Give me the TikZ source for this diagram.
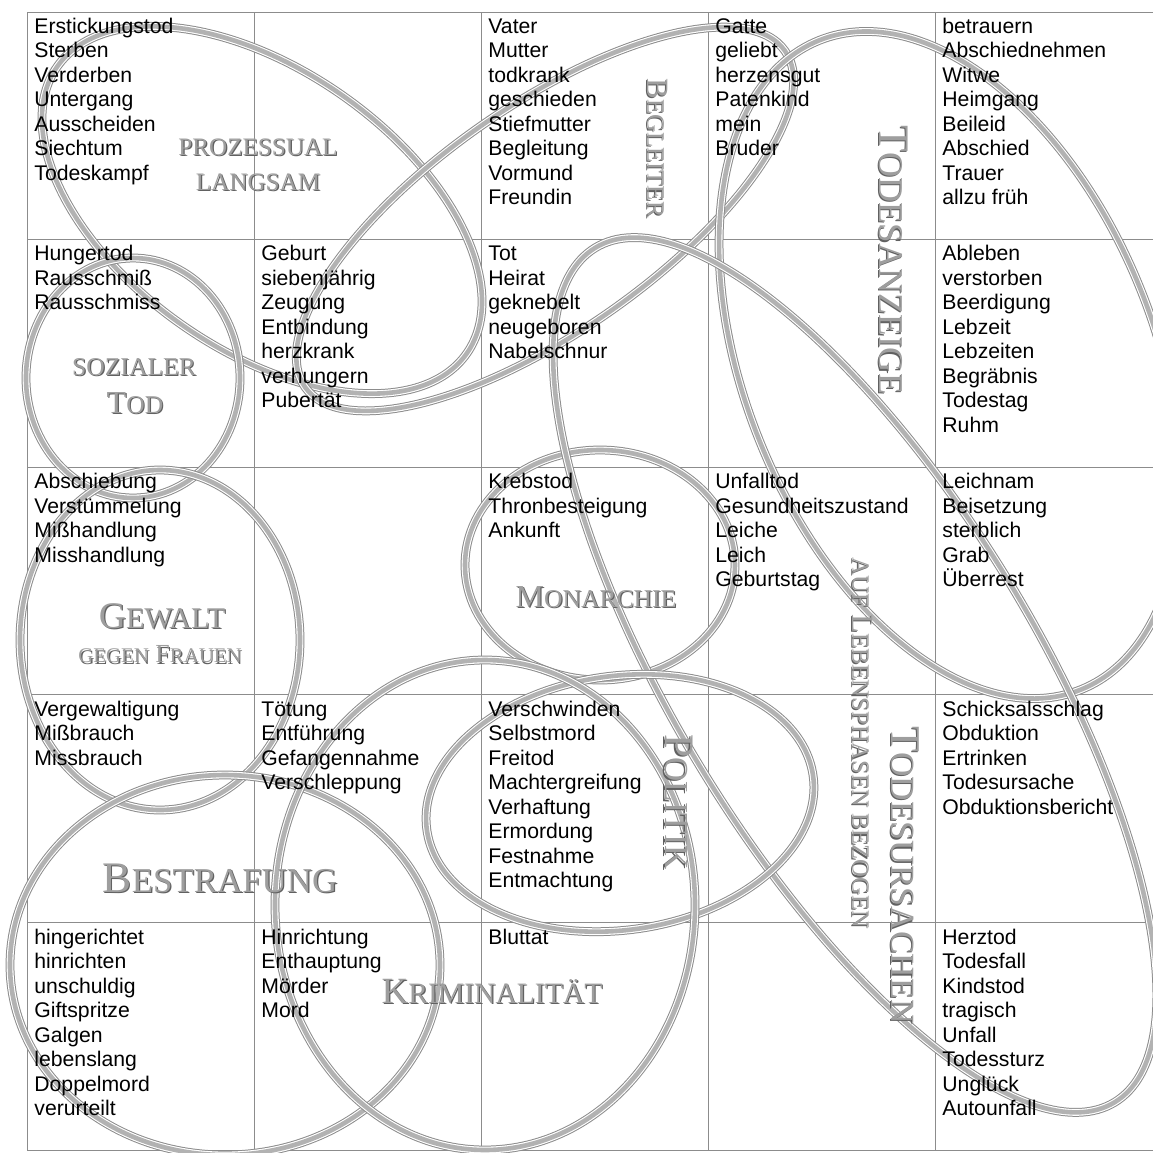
\documentclass[tikz,border=0pt]{standalone}
\usepackage{fontspec}
\newfontfamily\arial{Liberation Sans}
\newfontfamily\labelfont{Liberation Serif}

% small capitals, drawn from capitals at a smaller size
\newcommand\lowc[1]{\scalebox{0.8}{#1}}
% grey letters with a darker shade behind them
\newcommand\emboss[1]{\makebox[0pt][l]{\hspace{0.6pt}\raisebox{-0.6pt}{\color{black!62}#1}}{\color{black!38}#1}}

\tikzset{
  word/.style={anchor=base west, inner sep=0pt, font=\arial\fontsize{10.6}{12}\selectfont},
  topic/.style={inner sep=0pt, font=\labelfont\fontsize{#1}{#1}\selectfont},
  ring/.style={draw=black!45, line width=4.4pt,
    postaction={draw=white, line width=3.4pt},
    postaction={draw=black!30, line width=2.3pt}},
  cellline/.style={draw=black!45, line width=0.5pt}
}

\begin{document}
\begin{tikzpicture}[x=0.5pt, y=-0.5pt]
    \useasboundingbox (0,0) rectangle (1153,1153);
    \fill[white] (0,0) rectangle (1153,1153);
    \clip (0,0) rectangle (1153,1153);

    % table
    \foreach \k in {0,...,5} {
        \draw[cellline] (27, {12+227.6*\k}) -- (1165, {12+227.6*\k});
    }
    \foreach \k in {0,...,4} {
        \draw[cellline] ({27+227*\k}, 12) -- ({27+227*\k}, 1150);
    }

    % topic rings
    \coordinate (cProz) at (262,210);
    \coordinate (cSoz) at (133,378);
    \coordinate (cGew) at (160,640);
    \coordinate (cBegl) at (545,219);
    \coordinate (cMon) at (600,565);
    \coordinate (cAnz) at (950,365);
    \coordinate (cUrs) at (855,675);
    \coordinate (cPol) at (620,803);
    \coordinate (cStraf) at (225,965);
    \coordinate (cKrim) at (485,905);

    \draw[ring, rotate around={-35:(cProz)}] (cProz) ellipse [x radius=250, y radius=140];
    \draw[ring] (cSoz) ellipse [x radius=107, y radius=120];
    \draw[ring] (cGew) ellipse [x radius=140, y radius=170];
    \draw[ring, rotate around={35:(cBegl)}] (cBegl) ellipse [x radius=293, y radius=113];
    \draw[ring] (cMon) ellipse [x radius=135, y radius=115];
    \draw[ring, rotate around={-68:(cAnz)}] (cAnz) ellipse [x radius=350, y radius=205];
    \draw[ring, rotate around={-58.7:(cUrs)}] (cUrs) ellipse [x radius=500, y radius=180];
    \draw[ring, rotate around={8:(cPol)}] (cPol) ellipse [x radius=195, y radius=127];
    \draw[ring] (cStraf) ellipse [x radius=215, y radius=190];
    \draw[ring] (cKrim) ellipse [x radius=210, y radius=245];

    % words of the map
    \foreach \c/\r/\ws in {
        0/0/{Erstickungstod,Sterben,Verderben,Untergang,Ausscheiden,Siechtum,Todeskampf},
        2/0/{Vater,Mutter,todkrank,geschieden,Stiefmutter,Begleitung,Vormund,Freundin},
        3/0/{Gatte,geliebt,herzensgut,Patenkind,mein,Bruder},
        4/0/{betrauern,Abschiednehmen,Witwe,Heimgang,Beileid,Abschied,Trauer,allzu früh},
        0/1/{Hungertod,Rausschmiß,Rausschmiss},
        1/1/{Geburt,siebenjährig,Zeugung,Entbindung,herzkrank,verhungern,Pubertät},
        2/1/{Tot,Heirat,geknebelt,neugeboren,Nabelschnur},
        4/1/{Ableben,verstorben,Beerdigung,Lebzeit,Lebzeiten,Begräbnis,Todestag,Ruhm},
        0/2/{Abschiebung,Verstümmelung,Mißhandlung,Misshandlung},
        2/2/{Krebstod,Thronbesteigung,Ankunft},
        3/2/{Unfalltod,Gesundheitszustand,Leiche,Leich,Geburtstag},
        4/2/{Leichnam,Beisetzung,sterblich,Grab,Überrest},
        0/3/{Vergewaltigung,Mißbrauch,Missbrauch},
        1/3/{Tötung,Entführung,Gefangennahme,Verschleppung},
        2/3/{Verschwinden,Selbstmord,Freitod,Machtergreifung,Verhaftung,Ermordung,Festnahme,Entmachtung},
        4/3/{Schicksalsschlag,Obduktion,Ertrinken,Todesursache,Obduktionsbericht},
        0/4/{hingerichtet,hinrichten,unschuldig,Giftspritze,Galgen,lebenslang,Doppelmord,verurteilt},
        1/4/{Hinrichtung,Enthauptung,Mörder,Mord},
        2/4/{Bluttat},
        4/4/{Herztod,Todesfall,Kindstod,tragisch,Unfall,Todessturz,Unglück,Autounfall}} {
        \foreach \w [count=\i] in \ws {
            \node[word] (w\c\r-\i) at ({34+227*\c}, {33+227.75*\r+24.5*(\i-1)}) {\w};
        }
    }

    % topic labels
    \node[topic=15.7] (tProz1) at (258,148) {\emboss{\lowc{PROZESSUAL}}};
    \node[topic=15.7] (tProz2) at (258,183) {\emboss{\lowc{LANGSAM}}};
    \node[topic=16] (tSoz1) at (134,368) {\emboss{\lowc{SOZIALER}}};
    \node[topic=16] (tSoz2) at (135,404) {\emboss{T\lowc{OD}}};
    \node[topic=18.8] (tGew1) at (162,617) {\emboss{G\lowc{EWALT}}};
    \node[topic=13] (tGew2) at (160,655) {\emboss{\lowc{GEGEN} F\lowc{RAUEN}}};
    \node[topic=15.5, rotate=-90] (tBegl) at (657,148) {\emboss{B\lowc{EGLEITER}}};
    \node[topic=21.8, rotate=-90] (tAnz) at (893,260) {\emboss{T\lowc{ODESANZEIGE}}};
    \node[topic=16, rotate=0] (tMon) at (596,598) {\emboss{M\lowc{ONARCHIE}}};
    \node[topic=21, rotate=-90] (tPol) at (678,802) {\emboss{P\lowc{OLITIK}}};
    \node[topic=15.4, rotate=-90] (tLeb) at (862,743) {\emboss{\lowc{AUF} L\lowc{EBENSPHASEN BEZOGEN}}};
    \node[topic=21.2, rotate=-90] (tUrs) at (905,875) {\emboss{T\lowc{ODESURSACHEN}}};
    \node[topic=21.8] (tStraf) at (220,879) {\emboss{B\lowc{ESTRAFUNG}}};
    \node[topic=18.5] (tKrim) at (492,992) {\emboss{K\lowc{RIMINALITÄT}}};
\end{tikzpicture}
\end{document}
